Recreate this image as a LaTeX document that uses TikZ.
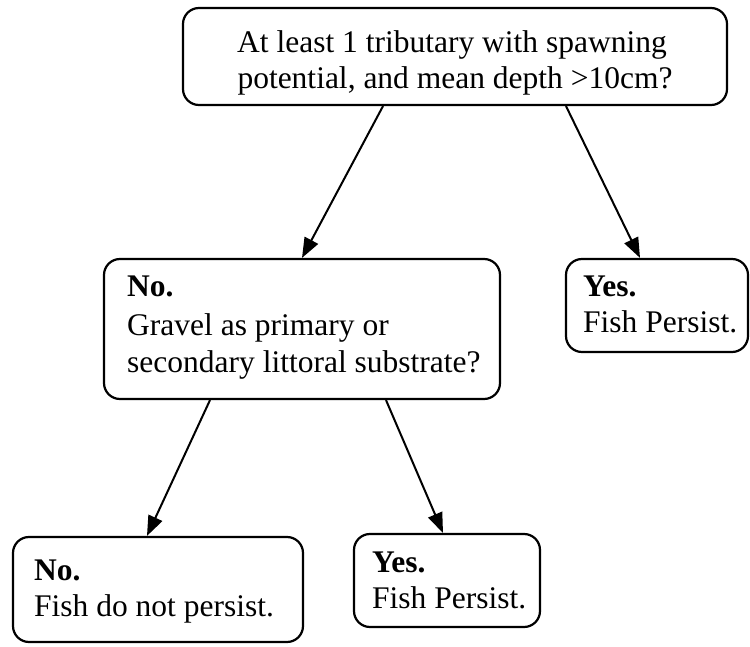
\documentclass[tikz,border=0pt]{standalone}
\usepackage{fontspec}
\setmainfont{Liberation Serif}
\usetikzlibrary{arrows.meta}
\begin{document}
\begin{tikzpicture}[x=1pt,y=-1pt,
  box/.style={draw, line width=2.2pt, rounded corners=16pt, inner sep=0pt},
  ctxt/.style={inner sep=0pt, anchor=base, font=\fontsize{31.5}{37}\selectfont},
  txt/.style={inner sep=0pt, anchor=base west, font=\fontsize{31.5}{37}\selectfont},
  arr/.style={line width=2pt, -{Triangle[length=20pt,width=15pt]}}]
\useasboundingbox (0,0) rectangle (750,647);
% boxes
\node[box, minimum width=544pt, minimum height=97pt] (top) at (455,56.5) {};
\node[box, minimum width=396pt, minimum height=140pt] (mid) at (302,329) {};
\node[box, minimum width=182pt, minimum height=93pt] (yes1) at (657,305.5) {};
\node[box, minimum width=290pt, minimum height=105pt] (no2) at (158,589.5) {};
\node[box, minimum width=186pt, minimum height=93pt] (yes2) at (447,580.5) {};
% texts
\node[ctxt] (t1) at (452,53) {At least 1 tributary with spawning};
\node[ctxt] (t2) at (455,89) {potential, and mean depth >10cm?};
\node[txt] (m1) at (127,297) {\textbf{No.}};
\node[txt] (m2) at (127,335) {Gravel as primary or};
\node[txt] (m3) at (127,372) {secondary littoral substrate?};
\node[txt] (y1a) at (583,297) {\textbf{Yes.}};
\node[txt] (y1b) at (583,332) {Fish Persist.};
\node[txt] (n2a) at (34,580) {\textbf{No.}};
\node[txt] (n2b) at (34,616) {Fish do not persist.};
\node[txt] (y2a) at (372,572) {\textbf{Yes.}};
\node[txt] (y2b) at (372,608) {Fish Persist.};
% connectors
\draw[arr] ([xshift=-72pt]top.south) -- (mid.north);
\draw[arr] ([xshift=111pt]top.south) -- ([xshift=-17pt]yes1.north);
\draw[arr] ([xshift=-92pt]mid.south) -- ([xshift=-11pt]no2.north);
\draw[arr] ([xshift=84pt]mid.south) -- ([xshift=-4pt]yes2.north);
\end{tikzpicture}
\end{document}
